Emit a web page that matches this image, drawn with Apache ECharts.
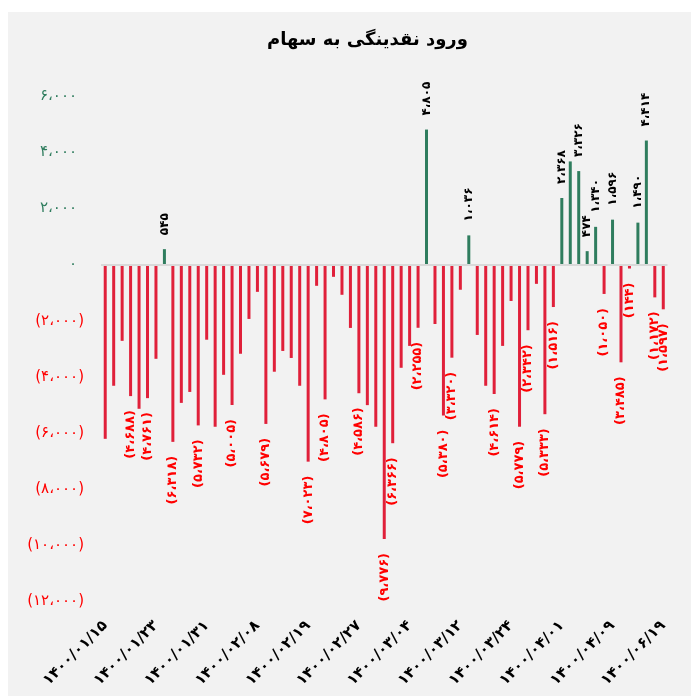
<!DOCTYPE html>
<html><head><meta charset="utf-8">
<script src="https://cdn.jsdelivr.net/npm/echarts@6/dist/echarts.min.js"></script>
<style>
html,body{margin:0;padding:0;background:#fff;}
#bg{position:absolute;left:8px;top:12px;width:683px;height:684px;background:#f2f2f2;}
#c{position:absolute;left:0;top:0;width:691px;height:696px;}
</style>
</head><body><div id="bg"></div><div id="c"></div>
<script>
const chartTitle = 'ورود نقدینگی به سهام';
// x-axis labels, one every 6 bars
const tickLabels = ['۱۴۰۰/۰۱/۱۵','۱۴۰۰/۰۱/۲۳','۱۴۰۰/۰۱/۳۱','۱۴۰۰/۰۲/۰۸','۱۴۰۰/۰۲/۱۹','۱۴۰۰/۰۲/۲۷',
                    '۱۴۰۰/۰۳/۰۴','۱۴۰۰/۰۳/۱۲','۱۴۰۰/۰۳/۲۴','۱۴۰۰/۰۴/۰۱','۱۴۰۰/۰۴/۰۹','۱۴۰۰/۰۶/۱۹'];
const labelEvery = 6;
// net liquidity inflow values (one per trading day)
const values = [-6210,-4320,-2720,-4688,-5140,-4761,-3360,545,-6318,-4930,
                -4540,-5732,-2680,-5780,-3930,-5005,-3180,-1940,-975,-5679,
                -3820,-3080,-3330,-4320,-7023,-760,-4805,-440,-1080,-2260,
                -4586,-5010,-5780,-9776,-6366,-3680,-2900,-2255,4805,-2120,
                -5380,-3320,-900,1036,-2510,-4320,-4614,-2900,-1300,-5779,
                -2342,-690,-5333,-1516,2368,3670,3326,474,1340,-1050,
                1596,-3485,-144,1490,4414,-1172,-1597];
// bars that carry a value label in the reference
const labeledIdx = [3,5,7,8,11,15,19,24,26,30,33,34,37,38,40,41,43,46,49,50,52,53,54,56,57,58,59,60,61,62,63,64,65,66];
const yMin = -12000, yMax = 6000, yStep = 2000;

const categories = values.map((v, i) => (i % labelEvery === 0) ? tickLabels[i / labelEvery] : '');
const GREEN = '#2f7d5e', RED = '#e0203a';
const FONT = 'DejaVu Sans';

function fa(n) {
  const s = Math.abs(n).toString().replace(/\B(?=(\d{3})+(?!\d))/g, '،');
  return s.replace(/\d/g, d => '۰۱۲۳۴۵۶۷۸۹'[d]);
}

const seriesData = values.map((v, i) => {
  const item = { value: v };
  if (labeledIdx.indexOf(i) >= 0) {
    item.label = v >= 0
      ? { show: true, position: 'top', rotate: 90, align: 'left', verticalAlign: 'middle', distance: 14,
          color: '#000', fontWeight: 'bold', fontSize: 12, fontFamily: FONT, formatter: () => fa(v) }
      : { show: true, position: 'bottom', rotate: 90, align: 'right', verticalAlign: 'middle', distance: 14,
          color: '#ff0000', fontWeight: 'bold', fontSize: 13, fontFamily: FONT, formatter: () => '(' + fa(v) + ')' };
  }
  return item;
});

const chart = echarts.init(document.getElementById('c'), null, { renderer: 'canvas' });
chart.setOption({
  backgroundColor: 'transparent',
  animation: false,
  title: {
    text: chartTitle, left: 262, top: 26,
    textStyle: { fontFamily: FONT, fontSize: 18, fontWeight: 'bold', color: '#000' }
  },
  grid: { left: 101, right: 23.5, top: 96, bottom: 94.6, containLabel: false, outerBoundsMode: 'none' },
  xAxis: {
    type: 'category', data: categories,
    axisLine: { show: false, onZero: false }, axisTick: { show: false },
    axisLabel: { interval: 0, rotate: 45, margin: 22, color: '#000', fontWeight: 'bold', fontSize: 15, fontFamily: FONT }
  },
  yAxis: {
    type: 'value', min: yMin, max: yMax, interval: yStep,
    axisLine: { show: false }, axisTick: { show: false }, splitLine: { show: false },
    axisLabel: {
      margin: 17, fontFamily: FONT, fontSize: 15,
      formatter: v => v >= 0 ? '{g|' + fa(v) + '}' : '{r|(' + fa(v) + ')}',
      rich: {
        g: { color: GREEN, fontFamily: FONT, fontSize: 15, padding: [0, 7, 0, 0] },
        r: { color: '#ff0000', fontFamily: FONT, fontSize: 15 }
      }
    }
  },
  series: [{
    type: 'bar', data: seriesData, barWidth: 3,
    itemStyle: { color: p => p.value >= 0 ? GREEN : RED },
    markLine: {
      silent: true, symbol: ['none', 'none'], label: { show: false },
      lineStyle: { color: '#d9d9d9', width: 2, type: 'solid' },
      data: [{ yAxis: 0 }]
    }
  }]
});
</script>
</body></html>
